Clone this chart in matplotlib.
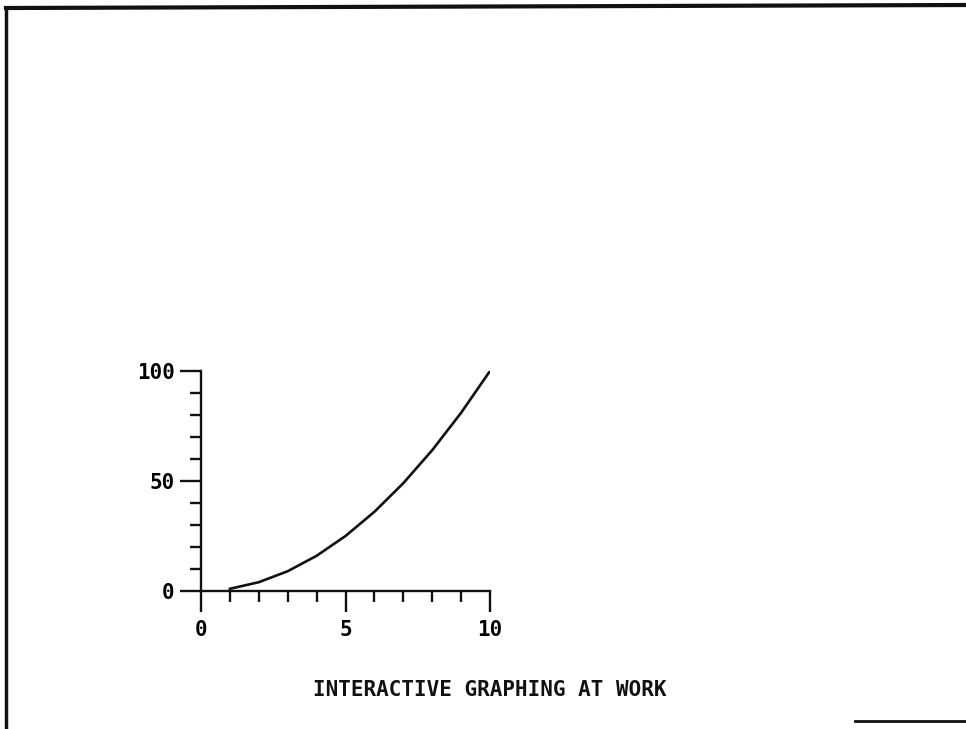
#!/usr/bin/env python3
"""Recreate the 'Interactive graphing at work' plotter chart."""

import matplotlib
matplotlib.use('Agg')
import matplotlib.pyplot as plt
from matplotlib.lines import Line2D
from matplotlib.ticker import MultipleLocator

x_vals = [1, 2, 3, 4, 5, 6, 7, 8, 9, 10]
y_vals = [1, 4, 9, 16, 25, 36, 49, 64, 81, 100]
x_major = [0, 5, 10]
y_major = [0, 50, 100]
title = 'INTERACTIVE GRAPHING AT WORK'

font = {'family': 'DejaVu Sans Mono', 'size': 15, 'weight': 'bold'}
ink = '#111111'

fig = plt.figure(figsize=(9.66, 7.29), dpi=100)
ax = fig.add_axes([201 / 966, 138 / 729, 289 / 966, 220 / 729])

ax.plot(x_vals, y_vals, color=ink, linewidth=1.9, solid_joinstyle='miter')

ax.set_xlim(0, 10)
ax.set_ylim(0, 100)
ax.set_xticks(x_major)
ax.set_yticks(y_major)
ax.xaxis.set_minor_locator(MultipleLocator(1))
ax.yaxis.set_minor_locator(MultipleLocator(10))
ax.set_xticklabels([str(v) for v in x_major], fontdict=font)
ax.set_yticklabels([str(v) for v in y_major], fontdict=font)

for side in ['top', 'right']:
    ax.spines[side].set_visible(False)
for side in ['left', 'bottom']:
    ax.spines[side].set_linewidth(1.7)
    ax.spines[side].set_color(ink)

ax.tick_params(which='major', direction='out', length=15, width=1.7, color=ink)
ax.tick_params(which='minor', direction='out', length=8, width=1.7, color=ink)
ax.tick_params(axis='x', which='major', pad=6)
ax.tick_params(axis='y', which='major', pad=4)

fig.text(490 / 966, 1 - 690 / 729, title, ha='center', va='center',
         color=ink, **font)

# page border as drawn by the plotter (left, top, and a bit of the bottom)
fig.add_artist(Line2D([6 / 966, 6 / 966], [0, 1 - 8 / 729],
                      transform=fig.transFigure, color=ink, linewidth=2.5))
fig.add_artist(Line2D([6 / 966, 1], [1 - 8 / 729, 1 - 5 / 729],
                      transform=fig.transFigure, color=ink, linewidth=3))
fig.add_artist(Line2D([855 / 966, 1], [1 - 721 / 729, 1 - 721 / 729],
                      transform=fig.transFigure, color=ink, linewidth=2))

fig.savefig('out.png', dpi=100)
